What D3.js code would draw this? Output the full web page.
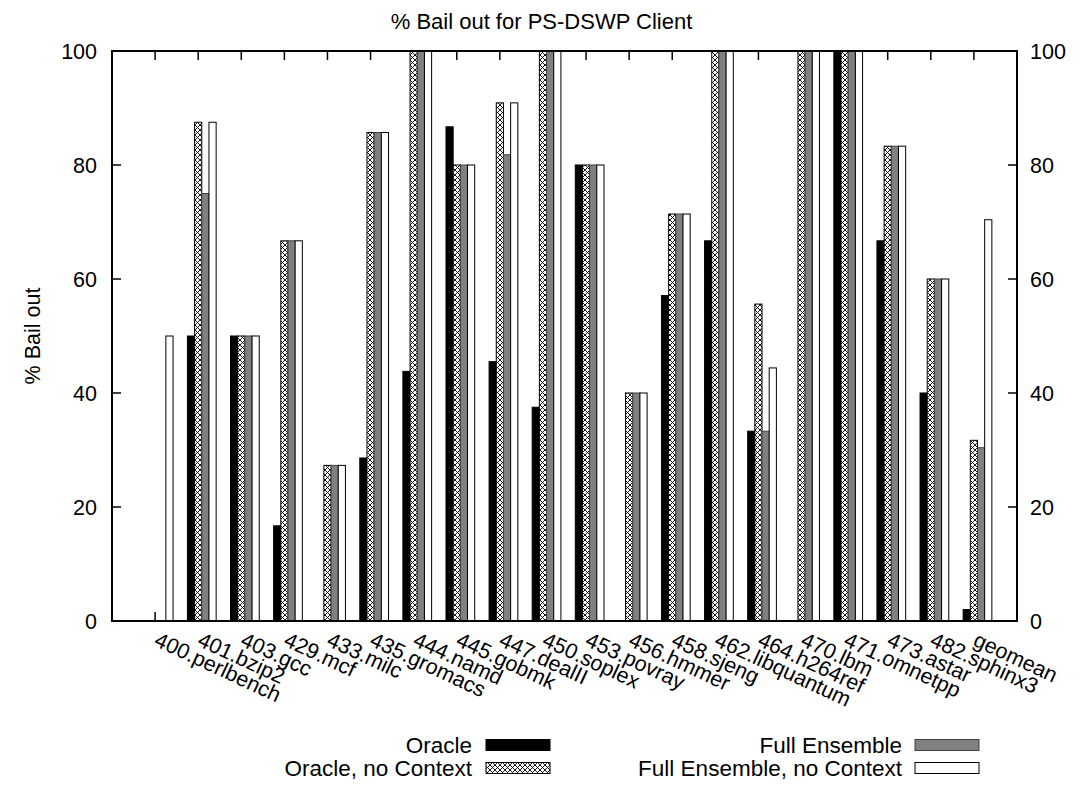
<!DOCTYPE html>
<html>
<head>
<meta charset="utf-8">
<script src="https://cdn.jsdelivr.net/npm/d3@7"></script>
<style>
  html, body { margin: 0; padding: 0; background: #fff; }
  svg { display: block; }
  text { font-family: "Liberation Sans", Arial, sans-serif; fill: #000; }
</style>
</head>
<body>
<svg id="chart" width="1083" height="786"></svg>
<script>
const categories = ["400.perlbench","401.bzip2","403.gcc","429.mcf","433.milc","435.gromacs","444.namd","445.gobmk","447.dealII","450.soplex","453.povray","456.hmmer","458.sjeng","462.libquantum","464.h264ref","470.lbm","471.omnetpp","473.astar","482.sphinx3","geomean"];
const oracle      = [0, 50, 50, 16.7, 0, 28.6, 43.8, 86.7, 45.5, 37.5, 80, 0, 57.1, 66.7, 33.3, 0, 100, 66.7, 40, 2.0];
const oracleNoCtx = [0, 87.5, 50, 66.7, 27.3, 85.7, 100, 80, 90.9, 100, 80, 40, 71.4, 100, 55.6, 100, 100, 83.3, 60, 31.7];
const fullEns     = [0, 75, 50, 66.7, 27.3, 85.7, 100, 80, 81.8, 100, 80, 40, 71.4, 100, 33.3, 100, 100, 83.3, 60, 30.4];
const fullNoCtx   = [50, 87.5, 50, 66.7, 27.3, 85.7, 100, 80, 90.9, 100, 80, 40, 71.4, 100, 44.4, 100, 100, 83.3, 60, 70.4];
const seriesNames = ["Oracle", "Oracle, no Context", "Full Ensemble", "Full Ensemble, no Context"];
const yTicks = [0, 20, 40, 60, 80, 100];

const series = [oracle, oracleNoCtx, fullEns, fullNoCtx];
const styles = [
  {fill: "#000", stroke: "#000"},
  {fill: "url(#xhatch)", stroke: "#000"},
  {fill: "#808080", stroke: "#404040"},
  {fill: "#fff", stroke: "#000"}
];

const svg = d3.select("#chart");
const L = 112, R = 1017, T = 51, B = 621;

const defs = svg.append("defs");
const pat = defs.append("pattern").attr("id", "xhatch")
  .attr("patternUnits", "userSpaceOnUse").attr("width", 5).attr("height", 5);
pat.append("rect").attr("width", 5).attr("height", 5).attr("fill", "#fff");
pat.append("path").attr("d", "M0,0L5,5M5,0L0,5").attr("stroke", "#000").attr("stroke-width", 0.9).attr("fill", "none");

const x = d3.scaleLinear().domain([-1, categories.length]).range([L, R]);
const y = d3.scaleLinear().domain([0, 100]).range([B, T]);
const bw = (x(1) - x(0)) / 6;

// ticks
const tickLen = 9;
const g = svg.append("g");
categories.forEach((c, i) => {
  g.append("line").attr("x1", x(i)).attr("x2", x(i)).attr("y1", B).attr("y2", B - tickLen).attr("stroke", "#000").attr("stroke-width", 1.5);
  g.append("line").attr("x1", x(i)).attr("x2", x(i)).attr("y1", T).attr("y2", T + tickLen).attr("stroke", "#000").attr("stroke-width", 1.5);
});
yTicks.forEach(v => {
  g.append("line").attr("x1", L).attr("x2", L + tickLen).attr("y1", y(v)).attr("y2", y(v)).attr("stroke", "#000").attr("stroke-width", 1.5);
  g.append("line").attr("x1", R).attr("x2", R - tickLen).attr("y1", y(v)).attr("y2", y(v)).attr("stroke", "#000").attr("stroke-width", 1.5);
  g.append("text").attr("x", L - 15).attr("y", y(v)).attr("dy", "0.35em").attr("text-anchor", "end").attr("font-size", 21.5).text(v);
  g.append("text").attr("x", R + 13).attr("y", y(v)).attr("dy", "0.35em").attr("text-anchor", "start").attr("font-size", 21.5).text(v);
});

// bars
series.forEach((vals, j) => {
  svg.append("g").selectAll("rect").data(vals.map((v, i) => ({v, i})).filter(d => d.v > 0))
    .join("rect")
    .attr("x", d => x(d.i) + (j - 1) * bw - bw / 2)
    .attr("width", bw)
    .attr("y", d => y(d.v))
    .attr("height", d => y(0) - y(d.v))
    .attr("fill", styles[j].fill)
    .attr("stroke", styles[j].stroke)
    .attr("stroke-width", 1);
});

// frame
svg.append("rect").attr("x", L).attr("y", T).attr("width", R - L).attr("height", B - T)
  .attr("fill", "none").attr("stroke", "#000").attr("stroke-width", 2);

// x labels
categories.forEach((c, i) => {
  const x0 = x(i) - 2, y0 = 645;
  svg.append("text").attr("transform", `translate(${x0},${y0}) rotate(25)`)
    .attr("text-anchor", "start").attr("font-size", 21.5).text(c);
});

// title and y label
svg.append("text").attr("x", 541.5).attr("y", 29).attr("text-anchor", "middle").attr("font-size", 22).text("% Bail out for PS-DSWP Client");
svg.append("text").attr("transform", `translate(40,${(T + B) / 2}) rotate(-90)`).attr("text-anchor", "middle").attr("font-size", 21.5).text("% Bail out");

// legend
const legendPos = [
  {tx: 472, bx: 486, by: 745},
  {tx: 472, bx: 486, by: 768},
  {tx: 902, bx: 915, by: 745},
  {tx: 902, bx: 915, by: 768}
];
seriesNames.forEach((name, j) => {
  const p = legendPos[j];
  svg.append("text").attr("x", p.tx).attr("y", p.by).attr("dy", "0.35em").attr("text-anchor", "end").attr("font-size", 22.5).text(name);
  svg.append("rect").attr("x", p.bx).attr("y", p.by - 5.5).attr("width", 64).attr("height", 11)
    .attr("fill", styles[j].fill).attr("stroke", styles[j].stroke).attr("stroke-width", 1);
});
</script>
</body>
</html>
